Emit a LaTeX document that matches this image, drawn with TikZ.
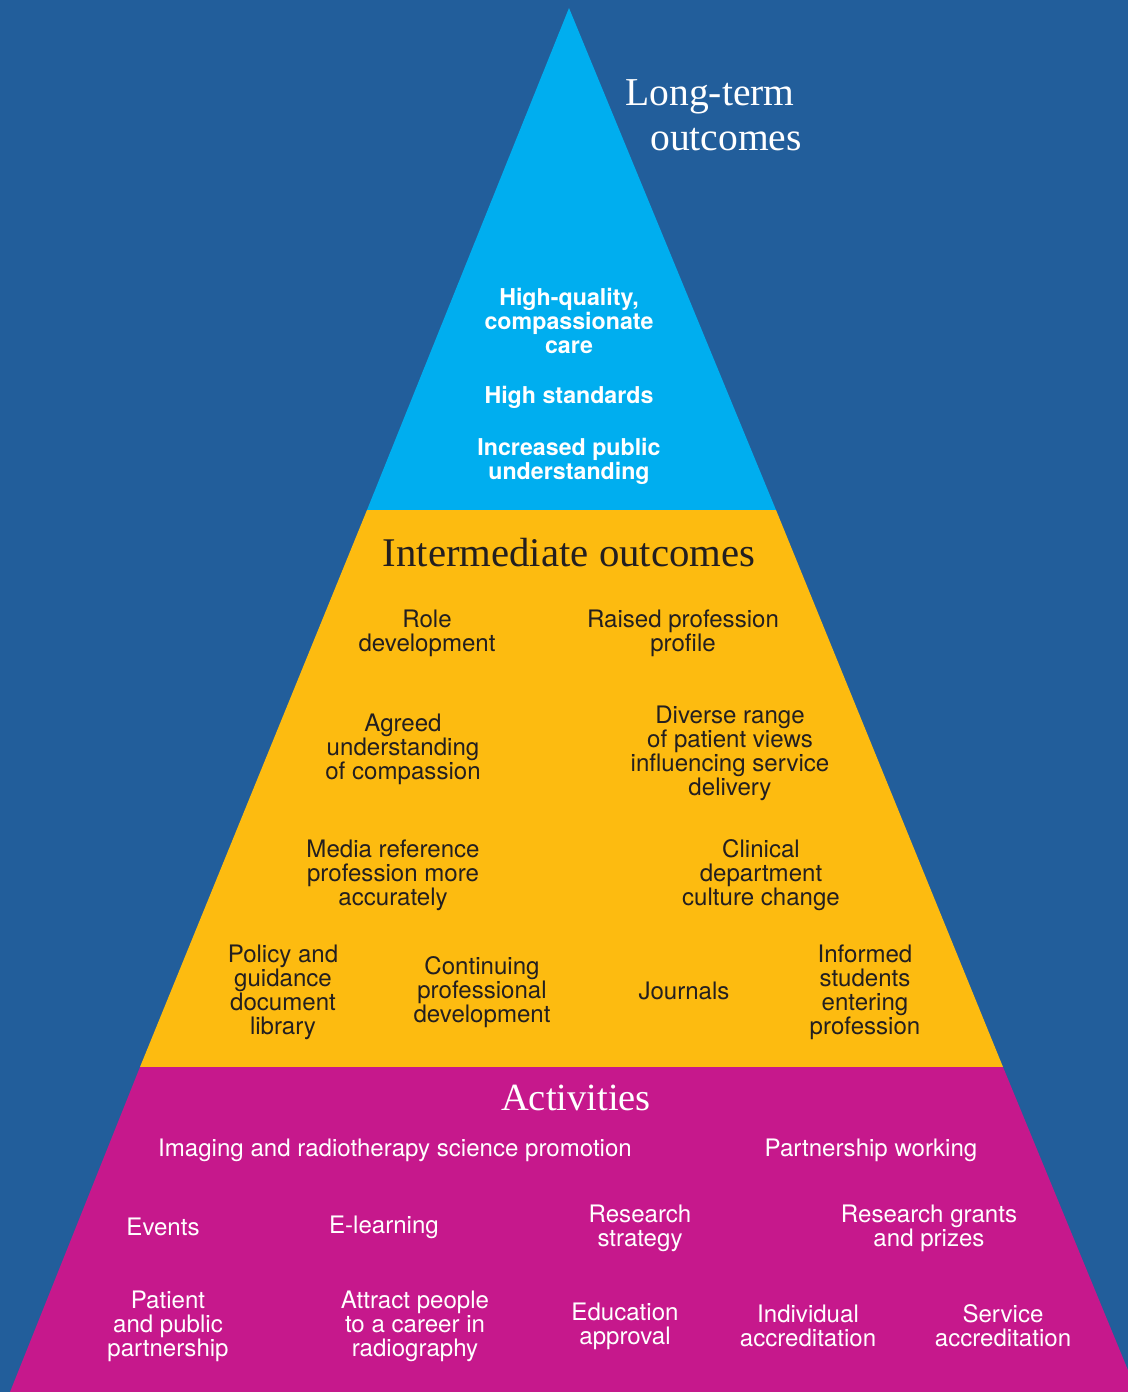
\documentclass[tikz,border=0pt]{standalone}
\usepackage{fontspec}
\setmainfont{TeX Gyre Heros}
\newfontfamily\headfont{Liberation Serif}

\definecolor{bgblue}{RGB}{34,94,155}
\definecolor{topcyan}{RGB}{0,174,239}
\definecolor{midyellow}{RGB}{253,187,16}
\definecolor{basepink}{RGB}{198,24,140}
\definecolor{inkdark}{RGB}{35,31,32}

\tikzset{
	heading/.style = {font=\headfont\fontsize{22.5}{26}\selectfont, inner sep=0pt},
	longterm/.style = {text=white, font=\bfseries\fontsize{13.2}{13.65}\selectfont, align=center, inner sep=0pt},
	middle/.style = {text=inkdark, font=\fontsize{13.7}{13.65}\selectfont, align=center, inner sep=0pt},
	activity/.style = {text=white, font=\fontsize{13.7}{13.65}\selectfont, align=center, inner sep=0pt},
}

\begin{document}
\begin{tikzpicture}[x=0.02cm, y=-0.02cm]
	\useasboundingbox (0,0) rectangle (1128,1392);
	\clip (0,0) rectangle (1128,1392);
	\fill[bgblue] (0,0) rectangle (1128,1392);
	
	\coordinate (apex) at (569,8);
	\coordinate (l1) at (367,510);
	\coordinate (r1) at (776,510);
	\coordinate (l2) at (140,1067);
	\coordinate (r2) at (1003,1067);
	\coordinate (l3) at (10,1392);
	\coordinate (r3) at (1137,1392);
	
	\fill[topcyan] (apex) -- (r1) -- (l1) -- cycle;
	\fill[midyellow] (l1) -- (r1) -- (r2) -- (l2) -- cycle;
	\fill[basepink] (l2) -- (r2) -- (r3) -- (l3) -- cycle;
	
	% long-term outcomes
	\node [heading, text=white, anchor=base] (lt1) at (710,106) {Long-term};
	\node [heading, text=white, anchor=base] (lt2) at (726,151) {outcomes};
	\node [longterm] (care) at (569,321) {High-quality,\\compassionate\\care};
	\node [longterm] (standards) at (569,397) {High standards};
	\node [longterm] (public) at (569,461) {Increased public\\understanding};
	
	% intermediate outcomes
	\node [heading, text=inkdark, font=\headfont\fontsize{23.2}{26}\selectfont] (inter) at (569,553) {Intermediate outcomes};
	\node [middle] (role) at (427,633) {Role\\development};
	\node [middle] (profile) at (683,633) {Raised profession\\profile};
	\node [middle] (agreed) at (403,749) {Agreed\\understanding\\of compassion};
	\node [middle] (diverse) at (730,753) {Diverse range\\of patient views\\influencing service\\delivery};
	\node [middle] (media) at (393,875) {Media reference\\profession more\\accurately};
	\node [middle] (culture) at (761,875) {Clinical\\department\\culture change};
	\node [middle] (policy) at (283,992) {Policy and\\guidance\\document\\library};
	\node [middle] (cpd) at (482,992) {Continuing\\professional\\development};
	\node [middle] (journals) at (684,991) {Journals};
	\node [middle] (students) at (865,992) {Informed\\students\\entering\\profession};
	
	% activities
	\node [heading, text=white, font=\headfont\fontsize{21.9}{26}\selectfont] (act) at (576,1098) {Activities};
	\node [activity] (promotion) at (395,1150) {Imaging and radiotherapy science promotion};
	\node [activity] (partnership) at (871,1150) {Partnership working};
	\node [activity] (events) at (163,1227) {Events};
	\node [activity] (elearning) at (384,1227) {E-learning};
	\node [activity] (strategy) at (640,1228) {Research\\strategy};
	\node [activity] (grants) at (929,1228) {Research grants\\and prizes};
	\node [activity] (ppp) at (168,1326) {Patient\\and public\\partnership};
	\node [activity] (attract) at (415,1326) {Attract people\\to a career in\\radiography};
	\node [activity] (education) at (625,1326) {Education\\approval};
	\node [activity] (individual) at (808,1326) {Individual\\accreditation};
	\node [activity] (service) at (1003,1326) {Service\\accreditation};
\end{tikzpicture}
\end{document}
